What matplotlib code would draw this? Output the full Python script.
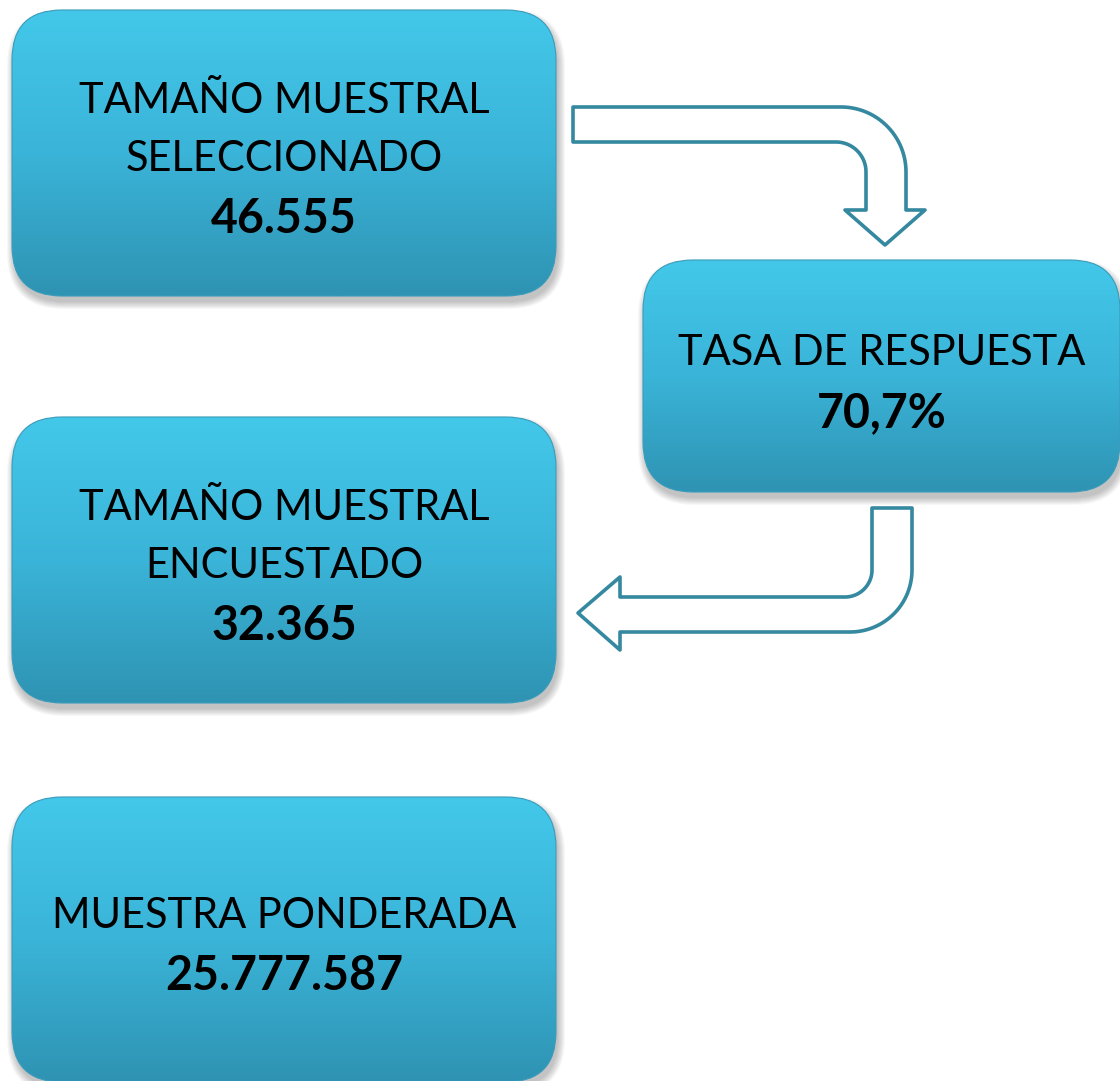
import numpy as np
import matplotlib
matplotlib.use("Agg")
import matplotlib.pyplot as plt
from matplotlib.patches import FancyBboxPatch, Polygon
from matplotlib.colors import LinearSegmentedColormap

# Diagram content
labels = ["TAMAÑO MUESTRAL\nSELECCIONADO", "TASA DE RESPUESTA",
          "TAMAÑO MUESTRAL\nENCUESTADO", "MUESTRA PONDERADA"]
values = ["46.555", "70,7%", "32.365", "25.777.587"]

# box layout in pixels (x0, y0, x1, y1), image coords (y down)
boxes = [(12, 10, 556, 296), (643, 260, 1120, 492),
         (12, 417, 556, 703), (12, 797, 556, 1082)]

W, H = 1120, 1081
fig = plt.figure(figsize=(W / 100, H / 100), dpi=100)
ax = fig.add_axes([0, 0, 1, 1])
ax.set_xlim(0, W)
ax.set_ylim(H, 0)
ax.axis("off")

cmap = LinearSegmentedColormap.from_list("box", ["#43c8ea", "#3ab4d8", "#2f93b3"])
grad = np.linspace(0, 1, 256).reshape(-1, 1)
font = "Lato"

for (x0, y0, x1, y1), lab, val in zip(boxes, labels, values):
    # soft shadow
    for i in range(8):
        sh = FancyBboxPatch((x0 + 2 - i, y0 + 6 - i), x1 - x0 + 2 * i, y1 - y0 + 2 * i,
                            boxstyle="round,pad=0,rounding_size=%d" % (50 + i),
                            fc="#000000", ec="none", alpha=0.03, zorder=1)
        ax.add_patch(sh)
    box = FancyBboxPatch((x0, y0), x1 - x0, y1 - y0,
                         boxstyle="round,pad=0,rounding_size=50",
                         fc="none", ec="#3a9cbb", lw=0.8, zorder=3)
    ax.add_patch(box)
    im = ax.imshow(grad, cmap=cmap, extent=(x0, x1, y1, y0), aspect="auto", zorder=2)
    im.set_clip_path(box)

    cy = (y0 + y1) / 2
    nlines = lab.count("\n") + 1
    step = 58
    top = cy - step * nlines / 2
    for k, line in enumerate(lab.split("\n")):
        ax.text((x0 + x1) / 2, top + k * step + 6, line, ha="center", va="center",
                fontsize=30, family=font, color="black", zorder=4)
    ax.text((x0 + x1) / 2, top + nlines * step + 8, val, ha="center", va="center",
            fontsize=33.5, family=font, fontweight="bold", color="black", zorder=4)


def arc(cx, cy, r, a0, a1, n=30):
    t = np.radians(np.linspace(a0, a1, n))
    return list(zip(cx + r * np.cos(t), cy + r * np.sin(t)))


arrow_col = "#34889f"

# arrow from box 1 to box 2 (angles in image coords, y down)
pts = [(573, 107)] + arc(841, 172, 65, -90, 0) + [(906, 210), (925, 210), (885, 245),
      (845, 210), (866, 210)] + arc(836, 172, 30, 0, -90) + [(573, 142)]
ax.add_patch(Polygon(pts, closed=True, fc="white", ec=arrow_col, lw=2.6,
                     joinstyle="round", zorder=5))

# arrow from box 2 to box 3
pts = [(872, 508), (912, 508)] + arc(850, 570, 62, 0, 90) + [(620, 632), (620, 650),
      (578, 613), (620, 577), (620, 597)] + arc(845, 570, 27, 90, 0) + [(872, 508)]
ax.add_patch(Polygon(pts, closed=True, fc="white", ec=arrow_col, lw=2.6,
                     joinstyle="round", zorder=5))

fig.savefig("out.png", dpi=100)
